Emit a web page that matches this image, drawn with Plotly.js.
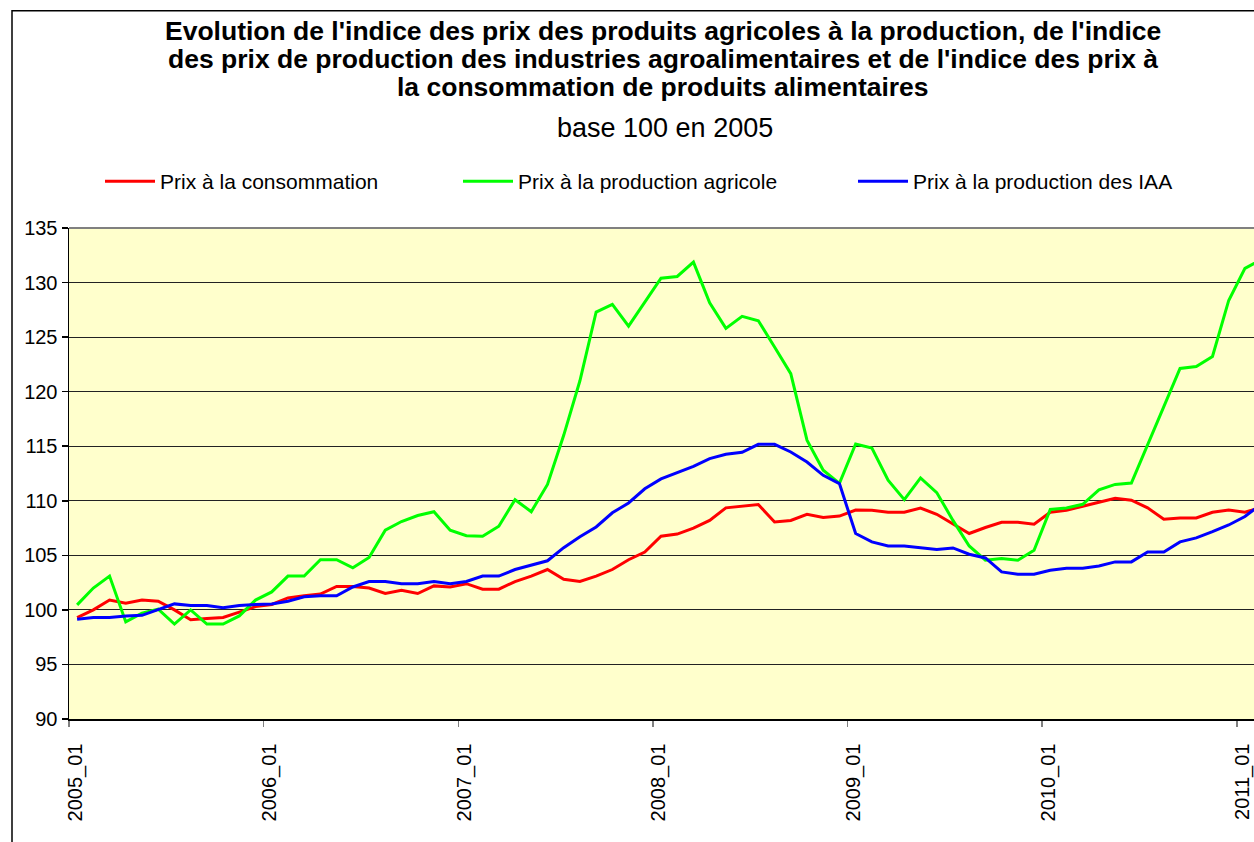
<!DOCTYPE html>
<html>
<head>
<meta charset="utf-8">
<script src="https://cdn.plot.ly/plotly-3.0.1.min.js"></script>
<style>html,body{margin:0;padding:0;overflow:hidden;background:#fff}#chart{width:1254px;height:842px}</style>
</head>
<body>
<div id="chart"></div>
<script>
const months = [
 '2005_01','2005_02','2005_03','2005_04','2005_05','2005_06','2005_07','2005_08','2005_09','2005_10','2005_11','2005_12',
 '2006_01','2006_02','2006_03','2006_04','2006_05','2006_06','2006_07','2006_08','2006_09','2006_10','2006_11','2006_12',
 '2007_01','2007_02','2007_03','2007_04','2007_05','2007_06','2007_07','2007_08','2007_09','2007_10','2007_11','2007_12',
 '2008_01','2008_02','2008_03','2008_04','2008_05','2008_06','2008_07','2008_08','2008_09','2008_10','2008_11','2008_12',
 '2009_01','2009_02','2009_03','2009_04','2009_05','2009_06','2009_07','2009_08','2009_09','2009_10','2009_11','2009_12',
 '2010_01','2010_02','2010_03','2010_04','2010_05','2010_06','2010_07','2010_08','2010_09','2010_10','2010_11','2010_12',
 '2011_01','2011_02'
];
const tickLabels = ['2005_01','2006_01','2007_01','2008_01','2009_01','2010_01','2011_01'];

const prixConsommation = [
 99.3,100.0,100.9,100.6,100.9,100.8,100.0,99.1,99.2,99.3,99.8,100.3,
 100.5,101.1,101.3,101.45,102.15,102.15,102.0,101.5,101.8,101.5,102.2,102.1,
 102.4,101.9,101.9,102.6,103.1,103.7,102.8,102.6,103.1,103.7,104.6,105.3,
 106.75,106.95,107.5,108.2,109.35,109.5,109.65,108.06,108.2,108.76,108.46,108.6,
 109.15,109.13,108.95,108.95,109.34,108.76,107.85,107.0,107.55,108.03,108.03,107.85,
 108.95,109.13,109.5,109.86,110.23,110.05,109.35,108.3,108.43,108.43,108.95,109.15,
 108.95,109.4
];
const prixAgricole = [
 100.46,102.0,103.1,98.9,99.7,100.06,98.7,100.0,98.7,98.7,99.45,100.9,
 101.65,103.1,103.1,104.6,104.6,103.85,104.8,107.3,108.1,108.65,109.0,107.3,
 106.8,106.75,107.67,110.1,109.0,111.5,116.0,121.0,127.3,128.0,126.0,128.2,
 130.4,130.56,131.87,128.15,125.8,126.9,126.5,124.1,121.65,115.55,112.8,111.6,
 115.2,114.84,111.88,110.1,112.1,110.75,108.2,105.86,104.55,104.7,104.55,105.47,
 109.2,109.34,109.68,111.0,111.5,111.62,115.1,118.5,122.13,122.3,123.23,128.36,
 131.3,132.1
];
const prixIAA = [
 99.15,99.3,99.3,99.45,99.5,100.06,100.55,100.4,100.4,100.2,100.4,100.5,
 100.55,100.8,101.2,101.3,101.3,102.1,102.6,102.6,102.4,102.4,102.6,102.4,
 102.6,103.1,103.1,103.7,104.1,104.5,105.7,106.7,107.6,108.9,109.8,111.1,
 112.0,112.6,113.16,113.86,114.26,114.44,115.17,115.17,114.47,113.55,112.33,111.57,
 107.0,106.23,105.86,105.86,105.68,105.53,105.68,105.1,104.76,103.48,103.27,103.27,
 103.64,103.82,103.82,104.03,104.4,104.4,105.3,105.3,106.23,106.6,107.17,107.78,
 108.56,109.7
];

const seriesNames = ['Prix à la consommation','Prix à la production agricole','Prix à la production des IAA'];
const seriesColors = ['#FF0000','#00FF00','#0000FF'];
const titleLines = [
 "Evolution de l'indice des prix des produits agricoles à la production, de l'indice",
 "des prix de production des industries agroalimentaires et de l'indice des prix à",
 "la consommation de produits alimentaires"
];
const subtitleText = 'base 100 en 2005';

const FONT = 'Arial, "Liberation Sans", sans-serif';
// category centres: each month sits in the middle of its slot
const xs = months.map((m, i) => i + 0.5);
const tickvals = tickLabels.map(l => months.indexOf(l));

const series = [prixConsommation, prixAgricole, prixIAA];
const legendIds = ['legend','legend2','legend3'];
const traces = series.map((ys, k) => ({
  type: 'scatter', mode: 'lines', x: xs, y: ys, name: seriesNames[k],
  line: {color: seriesColors[k], width: 3},
  legend: legendIds[k], hoverinfo: 'skip'
}));

const W = 1254, H = 842;
const mL = 69, mR = 0, mT = 227.5, mB = 123;
const pw = W - mL - mR, ph = H - mT - mB;
const px2x = p => (p - mL) / pw;
const py2y = p => (H - mB - p) / ph;

function legendAt(px) {
  return {x: px2x(px), y: py2y(181), xanchor: 'left', yanchor: 'middle', orientation: 'h',
    bgcolor: 'rgba(0,0,0,0)', borderwidth: 0, itemwidth: 50,
    font: {family: FONT, size: 21, color: '#000'}};
}

const titleY = [30, 58, 86];
const annotations = titleLines.map((t, k) => ({
  text: '<b>' + t + '</b>', xref: 'paper', yref: 'paper',
  x: px2x(663), y: py2y(titleY[k]), xanchor: 'center', yanchor: 'middle',
  showarrow: false, font: {family: FONT, size: 26.5, color: '#000'}
}));
annotations.push({
  text: subtitleText, xref: 'paper', yref: 'paper',
  x: px2x(665), y: py2y(127), xanchor: 'center', yanchor: 'middle',
  showarrow: false, font: {family: FONT, size: 27, color: '#000'}
});

const layout = {
  width: W, height: H,
  margin: {l: mL, r: mR, t: mT, b: mB, pad: 0},
  paper_bgcolor: '#FFFFFF', plot_bgcolor: '#FFFFCC',
  font: {family: FONT, size: 20, color: '#000'},
  annotations: annotations,
  showlegend: true,
  legend: legendAt(100),
  legend2: legendAt(458),
  legend3: legendAt(853),
  xaxis: {
    range: [0, 73.06], type: 'linear',
    tickmode: 'array', tickvals: tickvals, ticktext: tickLabels,
    tickangle: -90, ticks: 'outside', ticklen: 6, tickwidth: 1.5, tickcolor: '#808080',
    ticklabelstandoff: 9, ticklabelshift: 6, ticklabeloverflow: 'allow',
    showgrid: false, zeroline: false,
    showline: true, linecolor: '#000', linewidth: 1.5,
    tickfont: {family: FONT, size: 20, color: '#000'}, fixedrange: true
  },
  yaxis: {
    range: [90, 135], tickmode: 'linear', tick0: 90, dtick: 5,
    ticks: 'outside', ticklen: 6, tickwidth: 1.5, tickcolor: '#000',
    showgrid: true, gridcolor: '#222', gridwidth: 1.2,
    zeroline: false, showline: true, linecolor: '#000', linewidth: 1.5,
    tickfont: {family: FONT, size: 20, color: '#000'}, fixedrange: true
  },
  shapes: [
    // outer chart frame
    {type: 'rect', xref: 'paper', yref: 'paper', x0: px2x(12), x1: px2x(1262), y0: py2y(852), y1: py2y(10),
     line: {color: '#000', width: 1.5}, fillcolor: 'rgba(0,0,0,0)', layer: 'below'},
    // plot area top border
    {type: 'line', xref: 'paper', yref: 'paper', x0: 0, x1: 1.01, y0: 1, y1: 1,
     line: {color: '#808080', width: 2}}
  ]
};

Plotly.newPlot('chart', traces, layout, {staticPlot: true, displayModeBar: false});
</script>
</body>
</html>
